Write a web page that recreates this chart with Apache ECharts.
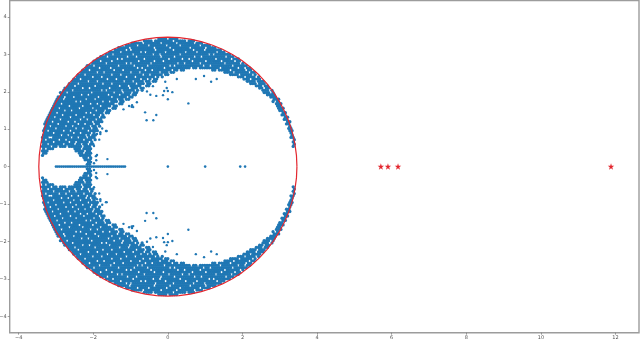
<!DOCTYPE html>
<html><head><meta charset="utf-8">
<style>html,body{margin:0;padding:0;background:#fff}#c{width:640px;height:339px}</style>
<script src="https://cdn.jsdelivr.net/npm/echarts@6/dist/echarts.min.js"></script>
</head><body><div id="c"></div>
<script>
const xTicks=[-4,-2,0,2,4,6,8,10,12];
const yTicks=[-4,-3,-2,-1,0,1,2,3,4];
// Upper half of the eigenvalue cloud:
// [row, first column, last column, columns left empty]
const cloudRows=[
[0,54,62,[58]],
[1,47,69,[51,60,66]],
[2,42,73,[47,55,62,70]],
[3,39,76,[44,49,57,63,72]],
[4,36,79,[41,52,59,68,75]],
[5,34,81,[39,41,52,60,69,74]],
[6,32,83,[37,46,48,57,66,71,80]],
[7,30,85,[33,42,51,54,63,76,78]],
[8,28,87,[31,40,44,55,61,70,73,84]],
[9,26,89,[35,37,47,58,64,67,79,86]],
[10,25,90,[28,33,45,52,56,69,75,82,88]],
[11,24,91,[30,39,41,50,62,65,72,83,90]],
[12,22,93,[25,36,43,49,59,61,74,77,87]],
[13,21,94,[27,32,44,46,56,68,71,81,89,92]],
[14,20,65,[23,34,38,48,51,60,63]],
[14,78,95,[80,86,93]],
[15,19,60,[26,29,41,45,54,58]],
[15,83,96,[87,94]],
[16,18,58,[21,33,37,47,50,56]],
[16,86,97,[90,96]],
[17,17,55,[24,28,39,43,52,54]],
[17,89,98,[92,97]],
[18,16,53,[19,31,35,46,49,51]],
[18,92,99,[95]],
[19,15,52,[22,26,38,42,47,50]],
[19,93,100,[97]],
[20,14,50,[18,29,33,44,48]],
[20,95,101,[98]],
[21,13,49,[16,25,36,40,46,47]],
[21,97,102,[100]],
[22,12,47,[20,23,32,41,45]],
[22,99,103,[101]],
[23,11,46,[15,28,30,37,43,45]],
[23,100,104,[103]],
[24,10,44,[13,24,34,38,42]],
[24,101,105,[104]],
[25,10,43,[19,22,31,36,41]],
[25,102,105,[]],
[26,9,42,[12,16,27,33,40]],
[26,104,106,[]],
[27,8,40,[11,21,25,35,38]],
[27,105,107,[]],
[28,8,38,[17,19,29,32,36]],
[28,105,107,[106]],
[29,7,37,[10,23,26,34,35]],
[29,106,108,[]],
[30,7,35,[14,20,28,33]],
[30,107,108,[]],
[31,6,34,[9,18,24,31,32]],
[31,107,109,[]],
[32,6,32,[12,15,26,30]],
[32,108,109,[]],
[33,5,31,[8,21,23,29]],
[33,109,110,[]],
[34,5,29,[11,17,25,28]],
[34,109,110,[]],
[35,4,29,[7,14,20,27]],
[35,110,111,[]],
[36,4,28,[10,19,22,26]],
[36,110,111,[]],
[37,3,28,[6,13,16,24]],
[37,111,112,[]],
[38,3,27,[9,18,21,25]],
[38,111,112,[]],
[39,3,27,[5,12,15,23,26]],
[39,112,112,[]],
[40,3,26,[8,17,20,24]],
[40,112,113,[]],
[41,2,26,[4,11,14,22]],
[41,112,113,[]],
[42,3,25,[7,16,19,24]],
[42,113,113,[]],
[43,2,25,[10,13,21,23]],
[43,113,113,[]],
[44,2,25,[5,6,15,18,22]],
[44,113,114,[]],
[45,2,25,[3,9,12,20,24]],
[45,114,114,[]],
[46,2,24,[7,14,17,23]],
[46,114,114,[]],
[47,2,24,[4,11,16,19,22]],
[47,114,114,[]],
[48,2,23,[6,9,13,20]],
[48,114,114,[]],
[49,2,6,[3]],
[49,16,23,[19]],
[50,2,4,[]],
[50,17,23,[21]],
[51,2,3,[]],
[51,18,23,[20]],
[52,2,2,[]],
[52,19,23,[]],
[53,20,23,[22]],
[54,21,23,[]],
[55,22,23,[]],
[56,22,23,[]]
];
// Stray eigenvalues inside the hole (mirrored below the axis)
const strayX=[-0.61,-0.31,-0.57,-0.39,0.55,0,-0.13,0,-0.10,0.12,-0.03,-0.31,-0.47,-0.56,-0.40,-0.07,-0.83,-0.97,-0.93,-0.96,-1.04,-1.19,-1.64,-1.66,-1.76,-1.81,-1.81,-1.90,-1.84,-1.98,-1.90,-1.62,-1.93,-1.92,-2.06,-1.98,0.75,1.16,1.31,0.97,0.24];
const strayY=[1.45,1.38,1.24,1.24,1.69,1.80,1.91,2.02,2.02,1.99,2.10,1.89,1.92,2.01,2.15,2.27,1.72,1.60,1.59,1.64,1.62,1.53,0.95,0.95,1.02,0.92,0.87,0.87,0.72,0.55,0.31,0.20,0.28,0.17,0.21,0.09,2.34,2.27,2.34,2.42,2.34];
// Eigenvalues on the real axis
const realX=[-3.00,-2.95,-2.90,-2.85,-2.80,-2.75,-2.70,-2.65,-2.60,-2.55,-2.50,-2.45,-2.40,-2.35,-2.30,-2.25,-2.20,-2.15,-2.10,-2.05,-2.00,-1.95,-1.90,-1.85,-1.80,-1.75,-1.70,-1.65,-1.60,-1.55,-1.50,-1.45,-1.40,-1.35,-1.30,-1.25,-1.20,-1.15,0,1.00,1.94,2.07];
// Outliers
const starX=[5.71,5.90,6.17,11.88];
const starY=[0,0,0,0];
// Quarter of the boundary circle
const arcX=[3.46,3.447,3.407,3.342,3.251,3.136,2.996,2.834,2.650,2.447,2.224,1.985,1.73,1.462,1.183,0.895,0.601,0.302,0];
const arcY=[0,0.302,0.601,0.895,1.183,1.462,1.73,1.985,2.224,2.447,2.650,2.834,2.996,3.136,3.251,3.342,3.407,3.447,3.46];

const cloud=[];
cloudRows.forEach(([r,a,b,gaps])=>{
  const y=3.42-0.06*r, off=r%2?0.03:0;
  for(let c=a;c<=b;c++){
    if(gaps.includes(c))continue;
    const x=0.06*(c-58)+off;
    cloud.push([x,y],[x,-y]);
  }
});
const strays=[];
strayX.forEach((x,i)=>strays.push([x,strayY[i]],[x,-strayY[i]]));
const reals=realX.map(x=>[x,0]);
const stars=starX.map((x,i)=>[x,starY[i]]);
const ring=[];
for(let i=0;i<arcX.length;i++)ring.push([arcX[i],arcY[i]]);
for(let i=arcX.length-2;i>=0;i--)ring.push([-arcX[i],arcY[i]]);
for(let i=1;i<arcX.length;i++)ring.push([-arcX[i],-arcY[i]]);
for(let i=arcX.length-2;i>=0;i--)ring.push([arcX[i],-arcY[i]]);

const blue='#1f77b4', red='#e3262e', grey='#9c9c9c';
const fmt=v=>String(v).replace('-','\u2212');
const chart=echarts.init(document.getElementById('c'),null,{renderer:'canvas'});
const axisCommon={
  splitLine:{show:false},
  axisLine:{show:false,onZero:false},
  axisTick:{show:true,length:2,lineStyle:{color:'#777',width:0.7}},
  axisLabel:{fontSize:5,color:'#555',margin:3,fontFamily:'DejaVu Sans',formatter:fmt,showMinLabel:true,showMaxLabel:true}
};
chart.setOption({
  animation:false,
  backgroundColor:'#fff',
  grid:{left:9.7,right:1,top:0.5,bottom:6.3,outerBoundsMode:'none',containLabel:false,show:true,borderColor:grey,borderWidth:1.4,backgroundColor:'#fff'},
  xAxis:{type:'value',min:-4.24,max:12.63,...axisCommon,
    axisTick:{...axisCommon.axisTick,customValues:xTicks},
    axisLabel:{...axisCommon.axisLabel,customValues:xTicks}},
  yAxis:{type:'value',min:-4.44,max:4.44,...axisCommon,
    axisTick:{...axisCommon.axisTick,customValues:yTicks},
    axisLabel:{...axisCommon.axisLabel,customValues:yTicks}},
  series:[
    {type:'scatter',data:cloud,symbol:'circle',symbolSize:3.3,itemStyle:{color:blue,opacity:1},silent:true},
    {type:'scatter',data:strays,symbol:'circle',symbolSize:2.4,itemStyle:{color:blue,opacity:1},silent:true},
    {type:'scatter',data:reals,symbol:'circle',symbolSize:2.6,itemStyle:{color:blue,opacity:1},silent:true},
    {type:'line',data:ring,showSymbol:false,smooth:false,lineStyle:{color:red,width:1.2},silent:true},
    {type:'scatter',data:stars,symbol:'path://M50 0L61.8 36.2L100 36.2L69.1 58.8L80.9 95.1L50 72.7L19.1 95.1L30.9 58.8L0 36.2L38.2 36.2Z',symbolSize:6.5,itemStyle:{color:red,opacity:1},silent:true}
  ]
});
</script></body></html>
